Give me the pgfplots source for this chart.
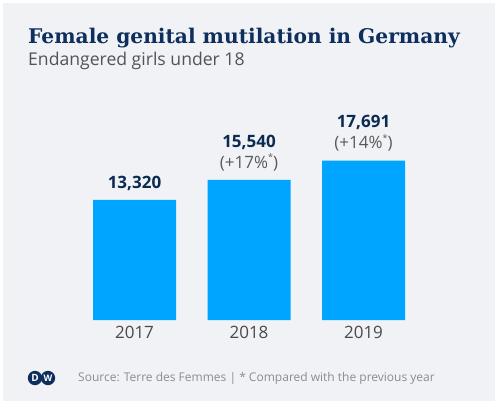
\documentclass[border=0pt]{standalone}
\usepackage{fontspec}
\setmainfont{Open Sans}
\newfontfamily\titlefont{DejaVu Serif}
\usepackage{pgfplots}
\pgfplotsset{compat=1.18}
\definecolor{bgc}{HTML}{F0F2F5}
\definecolor{barc}{HTML}{00A5FF}
\definecolor{navy}{HTML}{0E2F5E}
\definecolor{valc}{HTML}{0C2B52}
\definecolor{subc}{HTML}{505459}
\definecolor{pctc}{HTML}{5A5A5A}
\definecolor{yearc}{HTML}{4A4A4A}
\definecolor{srcc}{HTML}{8A8C90}
\newcommand{\sstar}{\raisebox{0.45em}{\fontsize{9}{9}\selectfont *}}
\begin{document}
\begin{tikzpicture}[x=1pt,y=1pt]
\useasboundingbox (0,0) rectangle (495,-401);
\fill[white] (0,0) rectangle (495,-401);
\fill[bgc] (3,-3) rectangle (495,-401);
\node[anchor=base west, inner sep=0pt, text=navy, font=\titlefont\bfseries\fontsize{20.2}{22}\selectfont] at (28,-43.3) {Female genital mutilation in Germany};
\node[anchor=base west, inner sep=0pt, text=subc, font=\fontsize{17.6}{20}\selectfont] at (28,-65.5) {Endangered girls under 18};
\node[anchor=base west, inner sep=0pt, text=srcc, font=\fontsize{12}{15}\selectfont] at (78,-381.5) {Source: Terre des Femmes | * Compared with the previous year};
% DW logo
\fill[navy] (35,-378) circle (7.2);
\fill[navy] (48,-378) circle (7.2);
\node[text=white, font=\bfseries\fontsize{10}{10}\selectfont, inner sep=0pt] at (35,-378) {D};
\node[text=white, font=\bfseries\fontsize{9}{9}\selectfont, inner sep=0pt] at (48,-378) {W};
\begin{axis}[
  at={(42.9pt,-320pt)}, anchor=south west,
  width=412.2pt, height=180.2pt, scale only axis,
  xmin=-0.8, xmax=2.8, ymin=0, ymax=20000,
  axis line style={draw=none}, major tick length=0pt,
  ytick=\empty, xtick={0,1,2}, xticklabels={2017,2018,2019},
  xticklabel style={text=yearc, font=\fontsize{17}{20}\selectfont, anchor=north, inner sep=0pt, yshift=-6pt},
  clip=false,
  ybar, bar width=83pt, bar shift=0pt,
  point meta=explicit symbolic,
  nodes near coords={\pgfplotspointmeta},
  nodes near coords style={anchor=south, align=center, inner sep=0pt, yshift=9pt, font=\fontsize{17}{21}\selectfont, text=pctc},
]
\addplot[fill=barc, draw=none] coordinates {
  (0,13320) [{\textcolor{valc}{\bfseries 13,320}}]
  (1,15540) [{\textcolor{valc}{\bfseries 15,540}\\(+17\%\sstar)}]
  (2,17691) [{\textcolor{valc}{\bfseries 17,691}\\(+14\%\sstar)}]
};
\end{axis}
\end{tikzpicture}
\end{document}
